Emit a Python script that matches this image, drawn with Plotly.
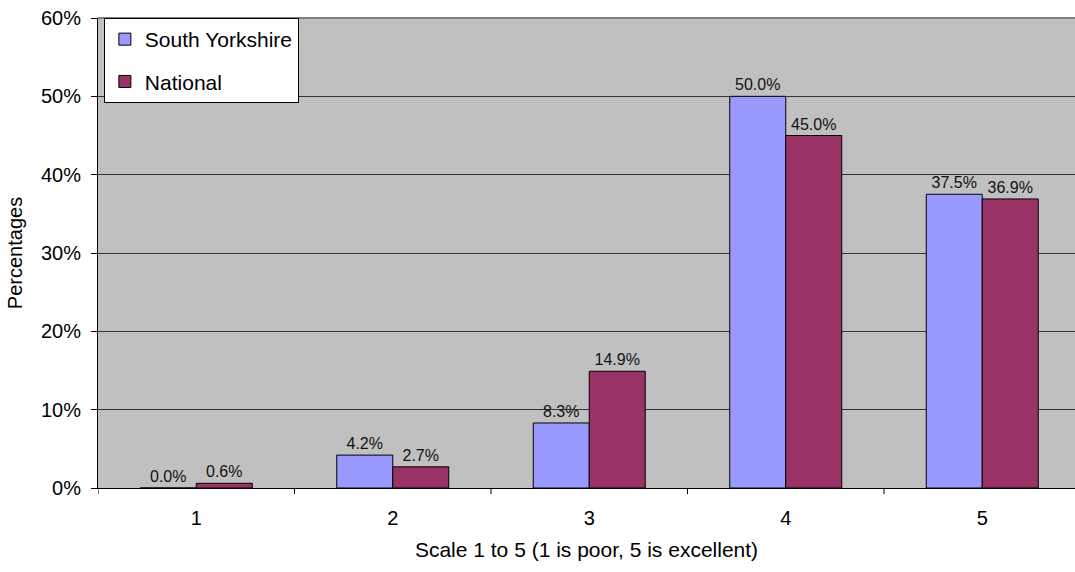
import plotly.graph_objects as go

categories = [1, 2, 3, 4, 5]
south_yorkshire = [0.0, 4.2, 8.3, 50.0, 37.5]
national = [0.6, 2.7, 14.9, 45.0, 36.9]
y_ticks = [0, 10, 20, 30, 40, 50, 60]
y_tick_labels = [f"{v}%" for v in y_ticks]

FONT = "Liberation Sans, Arial, sans-serif"

fig = go.Figure()
fig.add_trace(go.Bar(
    x=categories, y=south_yorkshire, name="South Yorkshire",
    marker=dict(color="#9999FF", line=dict(color="black", width=1)),
    text=[f"{v:.1f}%" for v in south_yorkshire], textposition="outside",
    textfont=dict(size=16, color="#111111"), cliponaxis=False,
    legendgroup="a",
))
fig.add_trace(go.Bar(
    x=categories, y=national, name="National",
    marker=dict(color="#993366", line=dict(color="black", width=1)),
    text=[f"{v:.1f}%" for v in national], textposition="outside",
    textfont=dict(size=16, color="#111111"), cliponaxis=False,
    legendgroup="b",
))

fig.update_layout(
    width=1075, height=572,
    margin=dict(l=98, r=0, t=18, b=84),
    paper_bgcolor="white", plot_bgcolor="#C0C0C0",
    font=dict(family=FONT, color="black"),
    barmode="group", bargap=0.43, bargroupgap=0,
    showlegend=True,
    legend=dict(
        x=0.006, y=1.0, xanchor="left", yanchor="top",
        bgcolor="white", bordercolor="black", borderwidth=1,
        font=dict(size=21, family=FONT), tracegroupgap=12,
        itemwidth=30,
    ),
    xaxis=dict(
        range=[0.5, 5.472], tickvals=categories, ticktext=[str(c) for c in categories],
        showgrid=False, showline=True, linecolor="black", linewidth=1,
        ticks="", tickfont=dict(size=20), ticklabelstandoff=12,
        title=dict(text="Scale 1 to 5 (1 is poor, 5 is excellent)", font=dict(size=21), standoff=14),
        zeroline=False,
    ),
    yaxis=dict(
        range=[0, 60], tickvals=y_ticks, ticktext=y_tick_labels,
        showgrid=True, gridcolor="#333333", gridwidth=1,
        showline=True, linecolor="black", linewidth=1,
        ticks="outside", ticklen=6, tickcolor="black",
        tickfont=dict(size=20), ticklabelstandoff=6,
        title=dict(text="Percentages", font=dict(size=20), standoff=12),
        zeroline=False,
    ),
)

# category separator ticks below the x axis
for b in [0.5, 1.5, 2.5, 3.5, 4.5]:
    fig.add_shape(type="line", xref="x", yref="paper", x0=b, x1=b, y0=0, y1=-0.013,
                  line=dict(color="black", width=1))
# plot area top border
fig.add_shape(type="line", xref="paper", yref="paper", x0=0, x1=1, y0=1, y1=1,
              line=dict(color="#808080", width=2))

fig.write_html("out.html")
